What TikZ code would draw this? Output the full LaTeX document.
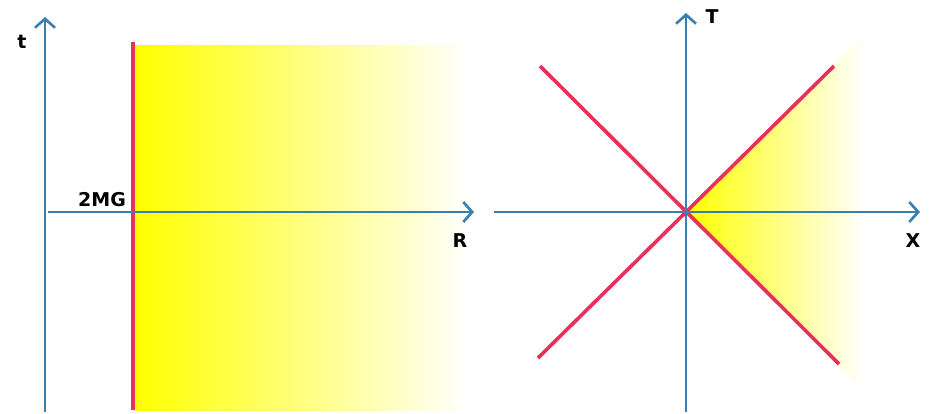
\documentclass[tikz,border=0pt]{standalone}
\usepackage{fontspec}
\setmainfont{DejaVu Sans}
\usetikzlibrary{arrows.meta}
\definecolor{axisblue}{HTML}{3A7FAE}
\definecolor{horizred}{HTML}{E8305A}
\definecolor{yel}{HTML}{FFFF00}
\begin{document}
\begin{tikzpicture}[x=1pt,y=-1pt,
  axis/.style={draw=axisblue,line width=2.6pt,-{Straight Barb[length=9pt,width=20pt,line width=2.6pt]}},
  horizon/.style={draw=horizred,line width=3.6pt},
  lab/.style={font=\fontsize{19}{22}\selectfont\bfseries, text=black}]
\useasboundingbox (0,0) rectangle (930,413);
% left diagram
\shade[left color=yel,right color=white] (135,45) rectangle (470,410);
\draw[horizon] (133,42) -- (133,410);
\coordinate (tb) at (45,412);
\coordinate (tt) at (45,17);
\coordinate (rl) at (48,212);
\coordinate (rr) at (474,212);
\draw[axis] (tb) -- (tt);
\draw[axis] (rl) -- (rr);
\node[lab] (t) at (22,42) {t};
\node[lab] (R) at (460,241) {R};
\node[lab] (mg) at (102,200) {2MG};
% right diagram
\coordinate (O) at (686,212);
\begin{scope}
\clip (O) -- (900,0) -- (900,426) -- cycle;
\shade[left color=yel,right color=white] (686,0) rectangle (865,430);
\end{scope}
\coordinate (ul) at (540,66);
\coordinate (lr) at (839,364);
\coordinate (ll) at (538,358);
\coordinate (ur) at (834,66);
\draw[horizon] (ul) -- (lr);
\draw[horizon] (ll) -- (ur);
\coordinate (Tb) at (686,412);
\coordinate (Tt) at (686,13);
\coordinate (Xl) at (494,212);
\coordinate (Xr) at (920,212);
\draw[axis] (Tb) -- (Tt);
\draw[axis] (Xl) -- (Xr);
\node[lab] (T) at (712,17) {T};
\node[lab] (X) at (913,241) {X};
\end{tikzpicture}
\end{document}
